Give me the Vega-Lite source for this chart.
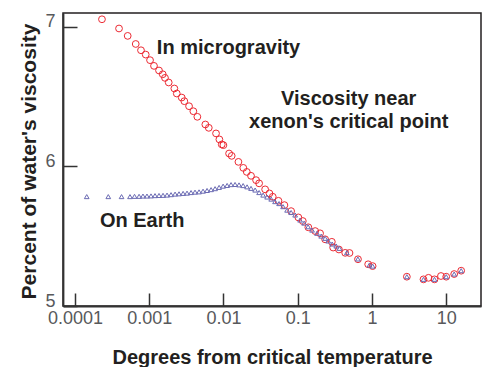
{
  "$schema": "https://vega.github.io/schema/vega-lite/v6.json",
  "width": 418,
  "height": 293,
  "autosize": {"type": "none"},
  "padding": {"left": 63, "top": 13, "right": 6, "bottom": 61},
  "background": "white",
  "config": {
    "view": {"stroke": "#231f20", "strokeWidth": 1.5},
    "font": "Liberation Sans",
    "axis": {
      "grid": false,
      "domainColor": "#333333",
      "domainWidth": 1.8,
      "tickColor": "#333333",
      "tickWidth": 1.5,
      "labelColor": "#58595b",
      "labelFont": "Liberation Sans",
      "labelFontSize": 18,
      "titleFont": "Liberation Sans",
      "titleFontSize": 20,
      "titleFontWeight": "bold",
      "titleColor": "#231f20"
    }
  },
  "datasets": {
    "micro": [
      {"x": 0.000231, "y": 7.055}, {"x": 0.000392, "y": 6.989}, {"x": 0.000513, "y": 6.936},
      {"x": 0.000658, "y": 6.878}, {"x": 0.000775, "y": 6.833}, {"x": 0.000897, "y": 6.802},
      {"x": 0.001026, "y": 6.762}, {"x": 0.00116, "y": 6.721}, {"x": 0.001355, "y": 6.688},
      {"x": 0.00152, "y": 6.661}, {"x": 0.00163, "y": 6.635}, {"x": 0.00183, "y": 6.602},
      {"x": 0.00218, "y": 6.559}, {"x": 0.00235, "y": 6.523}, {"x": 0.00274, "y": 6.494},
      {"x": 0.00297, "y": 6.468}, {"x": 0.00344, "y": 6.432}, {"x": 0.00393, "y": 6.396},
      {"x": 0.00445, "y": 6.356}, {"x": 0.0057, "y": 6.301}, {"x": 0.00634, "y": 6.277},
      {"x": 0.00794, "y": 6.237}, {"x": 0.00881, "y": 6.194}, {"x": 0.00948, "y": 6.158},
      {"x": 0.00998, "y": 6.153}, {"x": 0.0119, "y": 6.093}, {"x": 0.0129, "y": 6.076},
      {"x": 0.0159, "y": 6.033}, {"x": 0.0185, "y": 5.99}, {"x": 0.0206, "y": 5.961},
      {"x": 0.0235, "y": 5.933}, {"x": 0.0275, "y": 5.902}, {"x": 0.0302, "y": 5.879},
      {"x": 0.0364, "y": 5.836}, {"x": 0.0416, "y": 5.807}, {"x": 0.0461, "y": 5.783},
      {"x": 0.055, "y": 5.754}, {"x": 0.0662, "y": 5.723}, {"x": 0.0815, "y": 5.68},
      {"x": 0.102, "y": 5.635}, {"x": 0.117, "y": 5.609}, {"x": 0.139, "y": 5.564},
      {"x": 0.172, "y": 5.537}, {"x": 0.2, "y": 5.521}, {"x": 0.234, "y": 5.478},
      {"x": 0.288, "y": 5.46}, {"x": 0.3, "y": 5.419}, {"x": 0.359, "y": 5.405},
      {"x": 0.436, "y": 5.381}, {"x": 0.498, "y": 5.38}, {"x": 0.648, "y": 5.335},
      {"x": 0.889, "y": 5.299}, {"x": 1.02, "y": 5.286}, {"x": 2.95, "y": 5.21},
      {"x": 4.94, "y": 5.191}, {"x": 5.77, "y": 5.202}, {"x": 6.95, "y": 5.191},
      {"x": 8.49, "y": 5.215}, {"x": 10.0, "y": 5.21}, {"x": 12.8, "y": 5.229},
      {"x": 15.9, "y": 5.253}
    ],
    "earth": [
      {"x": 0.000144, "y": 5.784}, {"x": 0.000281, "y": 5.784}, {"x": 0.000424, "y": 5.784},
      {"x": 0.000551, "y": 5.784}, {"x": 0.000634, "y": 5.786}, {"x": 0.00073, "y": 5.786},
      {"x": 0.000824, "y": 5.788}, {"x": 0.000933, "y": 5.788}, {"x": 0.001057, "y": 5.789},
      {"x": 0.001197, "y": 5.791}, {"x": 0.001355, "y": 5.792}, {"x": 0.001535, "y": 5.793},
      {"x": 0.001738, "y": 5.795}, {"x": 0.001968, "y": 5.798}, {"x": 0.00223, "y": 5.802},
      {"x": 0.00252, "y": 5.804}, {"x": 0.00286, "y": 5.807}, {"x": 0.00323, "y": 5.809},
      {"x": 0.00366, "y": 5.813}, {"x": 0.00414, "y": 5.816}, {"x": 0.00469, "y": 5.818},
      {"x": 0.00531, "y": 5.823}, {"x": 0.00601, "y": 5.828}, {"x": 0.00681, "y": 5.834},
      {"x": 0.00771, "y": 5.841}, {"x": 0.00873, "y": 5.85}, {"x": 0.00989, "y": 5.859},
      {"x": 0.0112, "y": 5.864}, {"x": 0.01265, "y": 5.87}, {"x": 0.01432, "y": 5.871},
      {"x": 0.0162, "y": 5.868}, {"x": 0.0184, "y": 5.863}, {"x": 0.0208, "y": 5.854},
      {"x": 0.0235, "y": 5.843}, {"x": 0.0267, "y": 5.831}, {"x": 0.0302, "y": 5.813},
      {"x": 0.0342, "y": 5.795}, {"x": 0.0387, "y": 5.781}, {"x": 0.0439, "y": 5.766},
      {"x": 0.0495, "y": 5.748}, {"x": 0.0561, "y": 5.734}, {"x": 0.0635, "y": 5.712},
      {"x": 0.0719, "y": 5.687}, {"x": 0.0815, "y": 5.67}, {"x": 0.0923, "y": 5.652},
      {"x": 0.1076, "y": 5.616}, {"x": 0.122, "y": 5.594}, {"x": 0.138, "y": 5.568},
      {"x": 0.156, "y": 5.544}, {"x": 0.182, "y": 5.521}, {"x": 0.207, "y": 5.501},
      {"x": 0.234, "y": 5.485}, {"x": 0.257, "y": 5.466}, {"x": 0.291, "y": 5.444},
      {"x": 0.33, "y": 5.43}, {"x": 0.365, "y": 5.413}, {"x": 0.459, "y": 5.382},
      {"x": 0.646, "y": 5.337}, {"x": 0.925, "y": 5.294}, {"x": 1.02, "y": 5.286},
      {"x": 2.95, "y": 5.21}, {"x": 4.94, "y": 5.191}, {"x": 6.95, "y": 5.191},
      {"x": 10.0, "y": 5.21}, {"x": 12.8, "y": 5.229}, {"x": 15.9, "y": 5.253}
    ],
    "labelsLeft": [
      {"x": 0.001267, "y": 6.804, "text": "In microgravity"},
      {"x": 0.000217, "y": 5.566, "text": "On Earth"}
    ],
    "labelsCenter": [
      {"x": 0.486, "y": 6.439, "text": "Viscosity near"},
      {"x": 0.486, "y": 6.274, "text": "xenon's critical point"}
    ]
  },
  "encoding": {
    "x": {
      "field": "x", "type": "quantitative",
      "scale": {"type": "log", "domain": [0.000069, 29.4], "nice": false},
      "axis": {
        "values": [0.0001, 0.001, 0.01, 0.1, 1, 10],
        "tickCount": 10,
        "format": "~g",
        "tickSize": -13,
        "labelPadding": 16,
        "labelFlush": false,
        "labelOverlap": false,
        "title": "Degrees from critical temperature",
        "titleBaseline": "alphabetic",
        "titleY": 57
      }
    },
    "y": {
      "field": "y", "type": "quantitative",
      "scale": {"domain": [5, 7.1], "nice": false, "zero": false},
      "axis": {
        "values": [5, 6, 7],
        "tickCount": 10,
        "labelExpr": "format(datum.value, 'd')",
        "tickSize": -14,
        "labelPadding": 22,
        "labelBaseline": "alphabetic",
        "labelOverlap": false,
        "labelFlush": false,
        "title": "Percent of water's viscosity",
        "titleBaseline": "alphabetic",
        "titleAngle": 270,
        "titleX": -28,
        "titleY": 148,
        "titleFontSize": 21
      }
    }
  },
  "layer": [
    {
      "data": {"name": "micro"},
      "mark": {"type": "point", "shape": "circle", "filled": false, "stroke": "#ec2a33", "size": 46, "strokeWidth": 1, "opacity": 1}
    },
    {
      "data": {"name": "earth"},
      "mark": {"type": "point", "shape": "triangle-up", "filled": false, "stroke": "#6a6ab3", "size": 22, "strokeWidth": 1, "opacity": 1}
    },
    {
      "data": {"name": "labelsLeft"},
      "mark": {"type": "text", "align": "left", "baseline": "alphabetic", "font": "Liberation Sans", "fontSize": 20, "fontWeight": "bold", "color": "#231f20"},
      "encoding": {"text": {"field": "text"}}
    },
    {
      "data": {"name": "labelsCenter"},
      "mark": {"type": "text", "align": "center", "baseline": "alphabetic", "font": "Liberation Sans", "fontSize": 20, "fontWeight": "bold", "color": "#231f20"},
      "encoding": {"text": {"field": "text"}}
    }
  ]
}
